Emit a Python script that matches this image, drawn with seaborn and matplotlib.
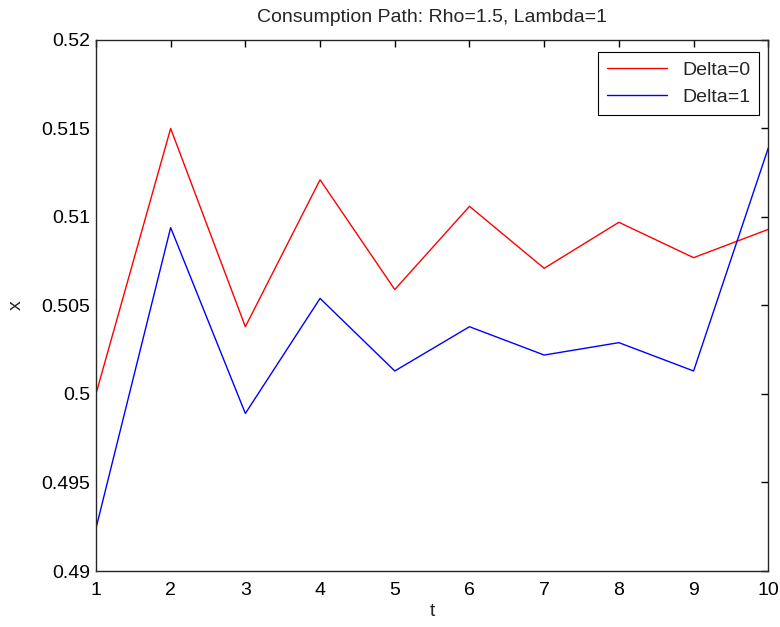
import matplotlib
matplotlib.use("Agg")
import matplotlib.pyplot as plt
import seaborn as sns
import pandas as pd

# 데이터
t = [1, 2, 3, 4, 5, 6, 7, 8, 9, 10]
delta0 = [0.5000, 0.5150, 0.5038, 0.5121, 0.5059, 0.5106, 0.5071, 0.5097, 0.5077, 0.5093]
delta1 = [0.4924, 0.5094, 0.4989, 0.5054, 0.5013, 0.5038, 0.5022, 0.5029, 0.5013, 0.5139]
labels = ["Delta=0", "Delta=1"]

df = pd.DataFrame({
    "t": t + t,
    "x": delta0 + delta1,
    "series": [labels[0]] * len(t) + [labels[1]] * len(t),
})

sns.set_style("white")
plt.rcParams["font.family"] = ["Liberation Sans", "DejaVu Sans"]

fig = plt.figure(figsize=(7.8, 6.27), dpi=100)
ax = fig.add_axes([0.123, 0.0893, 0.862, 0.847])

sns.lineplot(data=df, x="t", y="x", hue="series", palette=["#ff0000", "#0000ff"],
             linewidth=1.0, ax=ax)

ax.set_xlim(1, 10)
ax.set_ylim(0.49, 0.52)
ax.set_xticks(range(1, 11))
ax.set_yticks([0.49, 0.495, 0.5, 0.505, 0.51, 0.515, 0.52])
ax.set_yticklabels(["0.49", "0.495", "0.5", "0.505", "0.51", "0.515", "0.52"])
ax.tick_params(direction="in", length=5, width=1, top=True, right=True,
               labelsize=14, colors="black", pad=4)
ax.tick_params(axis="x", pad=8)
for s in ax.spines.values():
    s.set_color("#262626")
    s.set_linewidth(1.0)

ax.set_title("Consumption Path: Rho=1.5, Lambda=1", fontsize=14, pad=13)
ax.set_xlabel("t", fontsize=14, labelpad=3)
ax.set_ylabel("x", fontsize=14, labelpad=12)

leg = ax.legend(loc="upper right", fontsize=14, fancybox=False, framealpha=1,
                edgecolor="black", handlelength=3.1, borderpad=0.45,
                borderaxespad=0, bbox_to_anchor=(0.9866, 0.977))
leg.get_frame().set_linewidth(0.8)

fig.savefig("out.png", dpi=100)
